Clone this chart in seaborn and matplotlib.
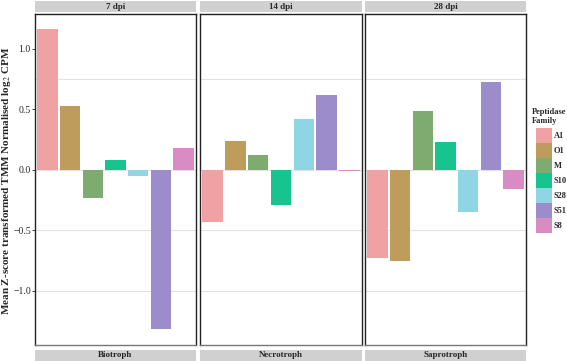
import matplotlib
matplotlib.use("Agg")
import matplotlib.pyplot as plt
import matplotlib.patches as mpatches
import seaborn as sns
import pandas as pd

# data
families = ["A1", "O1", "M", "S10", "S28", "S51", "S8"]
timepoints = ["7 dpi", "14 dpi", "28 dpi"]
lifestyles = ["Biotroph", "Necrotroph", "Saprotroph"]
vals_7dpi = [1.165, 0.523, -0.234, 0.08, -0.055, -1.317, 0.18]
vals_14dpi = [-0.427, 0.237, 0.124, -0.289, 0.421, 0.614, -0.01]
vals_28dpi = [-0.727, -0.75, 0.482, 0.229, -0.347, 0.725, -0.16]
yticks = [1.0, 0.5, 0.0, -0.5, -1.0]
colors = ["#EFA1A3", "#BE9C5C", "#7EAB70", "#17C48F", "#8FD5E4", "#9C8CCB", "#D98CC3"]

df = pd.DataFrame({
    "family": families * 3,
    "value": vals_7dpi + vals_14dpi + vals_28dpi,
    "time": [t for t in timepoints for _ in families],
})

sns.set_theme(style="white")
plt.rcParams["font.family"] = ["Liberation Serif", "DejaVu Serif"]
plt.rcParams["mathtext.fontset"] = "stix"

W, H = 567, 361
fig = plt.figure(figsize=(W / 100, H / 100), dpi=100)
palette = dict(zip(families, colors))

panels = [(35, 196), (200, 362), (365, 526)]
ytop, ybot = 13.5, 345
for i, (t, life) in enumerate(zip(timepoints, lifestyles)):
    x0, x1 = panels[i]
    ax = fig.add_axes([x0 / W, 1 - ybot / H, (x1 - x0) / W, (ybot - ytop) / H])
    for yy in [0.75, 0.0, -0.5, -1.0]:
        ax.axhline(yy, color="#e2e2e2", lw=0.8, zorder=0)
    sub = df[df["time"] == t]
    sns.barplot(data=sub, x="family", y="value", hue="family", palette=palette,
                order=families, hue_order=families, width=0.9, legend=False,
                ax=ax, saturation=1, edgecolor="none", zorder=2)
    ax.set_ylim(-1.446, 1.29)
    ax.set_xlim(-0.55, 6.55)
    ax.set_xticks([])
    ax.set_xlabel("")
    ax.set_ylabel("")
    if i == 0:
        ax.set_yticks(yticks)
        ax.set_yticklabels(["1.0", "0.5", "0.0", "\u22120.5", "\u22121.0"], fontsize=7)
        ax.tick_params(axis="y", length=2, width=0.6, pad=1, left=True)
    else:
        ax.set_yticks([])
    for s in ax.spines.values():
        s.set_color("#222222")
        s.set_linewidth(1.0)
    ax.spines["bottom"].set_color("#777777")

    # top strip
    sa = fig.add_axes([x0 / W, 1 - 12 / H, (x1 - x0) / W, 11 / H])
    sa.set_facecolor("#d0d0d0")
    sa.set_xticks([]); sa.set_yticks([])
    for s in sa.spines.values():
        s.set_visible(False)
    sa.text(0.5, 0.45, t, ha="center", va="center", fontsize=6.5, fontweight="bold")
    # bottom strip
    sb = fig.add_axes([x0 / W, 0, (x1 - x0) / W, 11.5 / H])
    sb.set_facecolor("#d0d0d0")
    sb.set_xticks([]); sb.set_yticks([])
    for s in sb.spines.values():
        s.set_visible(False)
    sb.text(0.5, 0.5, life, ha="center", va="center", fontsize=6.5, fontweight="bold")

fig.text(7 / W, 1 - 181 / H, r"Mean Z-score transformed TMM Normalised log$_2$ CPM",
         rotation=90, ha="center", va="center", fontsize=8, fontweight="bold")

# legend title placed separately so keys sit indented like the reference
fig.text(532 / W, 1 - 108 / H, "Peptidase\nFamily", ha="left", va="top",
         fontsize=6, fontweight="bold", linespacing=1.1)
handles = [mpatches.Patch(facecolor=c, edgecolor="none", label=f) for f, c in zip(families, colors)]
leg = fig.legend(handles=handles, loc="upper left", bbox_to_anchor=(534 / W, 1 - 126 / H),
                 frameon=False, fontsize=6,
                 handlelength=1.9, handleheight=2.4, labelspacing=0.0, handletextpad=0.3,
                 borderpad=0.2, borderaxespad=0)
for txt in leg.get_texts():
    txt.set_fontweight("bold")

fig.savefig("out.png", dpi=100)
